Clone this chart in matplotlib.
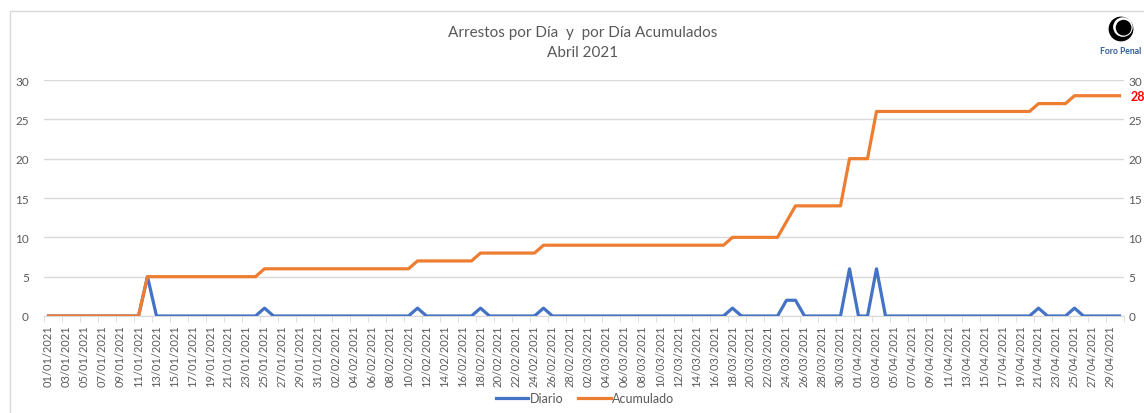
import matplotlib
matplotlib.use("Agg")
import matplotlib.pyplot as plt
from matplotlib.patches import Rectangle, Circle
import numpy as np
import pandas as pd

plt.rcParams['font.family'] = ['Lato', 'DejaVu Sans']

# arrestos diarios, 01/01/2021 - 30/04/2021
diario_ene = [0, 0, 0, 0, 0, 0, 0, 0, 0, 0, 0, 5, 0, 0, 0, 0, 0, 0, 0, 0,
              0, 0, 0, 0, 1, 0, 0, 0, 0, 0, 0]
diario_feb = [0, 0, 0, 0, 0, 0, 0, 0, 0, 0, 1, 0, 0, 0, 0, 0, 0, 1, 0, 0,
              0, 0, 0, 0, 1, 0, 0, 0]
diario_mar = [0, 0, 0, 0, 0, 0, 0, 0, 0, 0, 0, 0, 0, 0, 0, 0, 0, 1, 0, 0,
              0, 0, 0, 2, 2, 0, 0, 0, 0, 0, 6]
diario_abr = [0, 0, 6, 0, 0, 0, 0, 0, 0, 0, 0, 0, 0, 0, 0, 0, 0, 0, 0, 0,
              1, 0, 0, 0, 1, 0, 0, 0, 0, 0]

fechas = pd.date_range("2021-01-01", "2021-04-30", freq="D")
diario = np.array(diario_ene + diario_feb + diario_mar + diario_abr)
acumulado = np.cumsum(diario)
etiquetas = [d.strftime("%d/%m/%Y") for d in fechas]

azul = '#4472C4'
naranja = '#ED7D31'
gris_texto = '#595959'
gris_linea = '#D9D9D9'

W, H = 1144, 414
fig = plt.figure(figsize=(W / 100, H / 100), dpi=100)

# borde del area del grafico
fig.patches.append(Rectangle((10 / W, -0.1), 1.2, 1 - 12 / H + 0.1, transform=fig.transFigure,
                             fill=False, edgecolor=gris_linea, linewidth=1))

ax = fig.add_axes([44 / W, (H - 317) / H, 1080 / W, 236 / H])
x = np.arange(len(fechas))

ax.plot(x, diario, color=azul, linewidth=2.3, solid_joinstyle='round', label='Diario', zorder=3)
ax2 = ax.twinx()
ax2.plot(x, acumulado, color=naranja, linewidth=2.3, solid_joinstyle='round', label='Acumulado', zorder=3)

for a in (ax, ax2):
    a.set_ylim(0, 30)
    a.set_yticks(range(0, 31, 5))
    a.set_xlim(-0.5, len(x) - 0.5)
    for s in a.spines.values():
        s.set_visible(False)
    a.tick_params(axis='y', length=0, labelsize=8.5, labelcolor=gris_texto, pad=11)
ax2.tick_params(axis='y', pad=3)

ax.yaxis.grid(True, color=gris_linea, linewidth=1)
ax.set_axisbelow(True)
ax.spines['bottom'].set_visible(True)
ax.spines['bottom'].set_color(gris_linea)

ax.set_xticks(x[::2])
ax.set_xticklabels(etiquetas[::2], rotation=90, fontsize=8, color=gris_texto)
ax.set_xticks(np.arange(-0.5, len(x), 2), minor=True)
ax.tick_params(axis='x', which='major', length=0, pad=6)
ax.tick_params(axis='x', which='minor', length=4, color=gris_linea)

# etiqueta del ultimo valor acumulado
ax2.annotate(str(acumulado[-1]), xy=(x[-1], acumulado[-1]), xytext=(8, 0),
             textcoords='offset points', color='red', fontweight='bold',
             fontsize=9, va='center', ha='left', annotation_clip=False)

fig.text(583 / W, 1 - 33 / H, "Arrestos por Día  y  por Día Acumulados", ha='center', va='center',
         fontsize=11, color=gris_texto)
fig.text(583 / W, 1 - 53 / H, "Abril 2021", ha='center', va='center', fontsize=11, color=gris_texto)

# logo Foro Penal
ax_logo = fig.add_axes([1108 / W, 1 - 43 / H, 26 / W, 26 / H])
ax_logo.set_xlim(-1, 1)
ax_logo.set_ylim(-1, 1)
ax_logo.set_aspect('equal')
ax_logo.axis('off')
ax_logo.add_patch(Circle((0, 0), 0.9, color='black'))
ax_logo.add_patch(Circle((0.15, 0.15), 0.7, color='white'))
ax_logo.add_patch(Circle((0.2, 0.1), 0.55, color='black'))
fig.text(1121 / W, 1 - 52 / H, "Foro Penal", fontsize=6.2, color='#2E5C9A', ha='center', va='center',
         fontweight='bold')

h1, l1 = ax.get_legend_handles_labels()
h2, l2 = ax2.get_legend_handles_labels()
fig.legend(h1 + h2, l1 + l2, loc='center', bbox_to_anchor=(585 / W, 1 - 399 / H), ncol=2,
           frameon=False, fontsize=9, labelcolor=gris_texto, handlelength=2.6,
           handletextpad=0.1, columnspacing=1.2)

fig.savefig("out.png", dpi=100)
